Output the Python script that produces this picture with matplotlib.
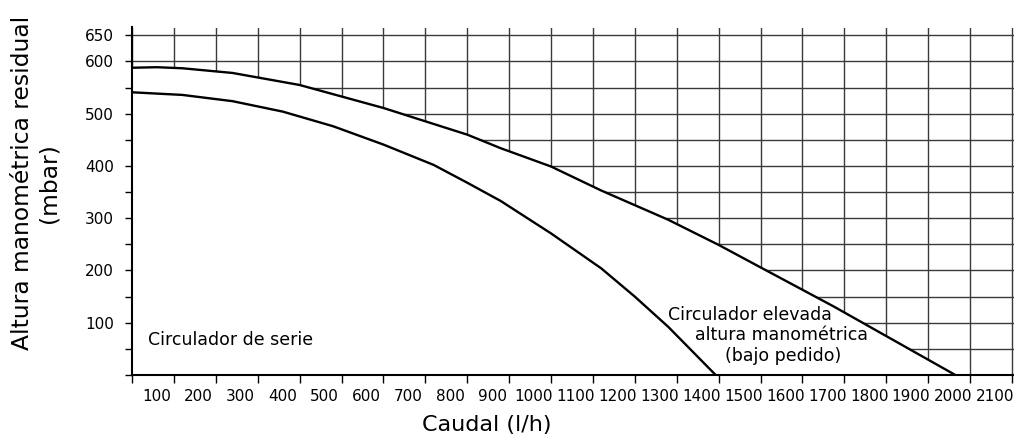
import numpy as np
import matplotlib
matplotlib.use('Agg')
import matplotlib.pyplot as plt
import matplotlib.transforms as mtransforms

matplotlib.rcParams.update({'font.family': 'DejaVu Sans'})

# curve readings (Caudal l/h, mbar)
q_elevada = [0, 60, 120, 240, 400, 600, 800, 880, 1000, 1120, 1280, 1400, 1500, 1675, 1965]
h_elevada = [588, 589, 587, 578, 555, 511, 460, 434, 399, 353, 297, 249, 206, 131, 0]

q_serie = [0, 120, 240, 360, 480, 600, 720, 800, 880, 940, 1000, 1120, 1200, 1280, 1393]
h_serie = [541, 536, 524, 504, 476, 441, 402, 368, 333, 302, 271, 204, 150, 92, 0]

x_ticks = list(range(0, 2200, 100))
y_ticks = list(range(0, 700, 50))
y_labels = ['100', '200', '300', '400', '500', '600', '650']

fig = plt.figure(figsize=(10.14, 4.45), dpi=100)
ax = fig.add_axes([132/1014, 1-375/445, (1014-132)/1014, (375-27.5)/445])

ax.set_xlim(0, 2105)
ax.set_ylim(0, 665)

ax.set_xticks(x_ticks)
ax.set_xticklabels(['' if v == 0 else str(v) for v in x_ticks], fontsize=11)
ax.set_yticks(y_ticks)
ax.set_yticklabels([str(v) if str(v) in y_labels else '' for v in y_ticks], fontsize=11)
ax.tick_params(axis='x', length=6, width=1, pad=4)
ax.tick_params(axis='y', length=5, width=1, pad=8)

# tick labels sit a bit to the left of their ticks
offset = mtransforms.ScaledTranslation(-17/100, 0, fig.dpi_scale_trans)
for lab in ax.get_xticklabels():
    lab.set_transform(lab.get_transform() + offset)

ax.set_axisbelow(True)
ax.grid(True, color='#3a3a3a', lw=1)
for s in ['top', 'right']:
    ax.spines[s].set_visible(False)
for s in ['left', 'bottom']:
    ax.spines[s].set_linewidth(1.5)

# hide grid under the curves
ax.fill_between(q_elevada, h_elevada, 0, color='white', zorder=1, lw=0)
ax.plot(q_elevada, h_elevada, color='black', lw=1.7, zorder=3)
ax.plot(q_serie, h_serie, color='black', lw=1.7, zorder=3)

ax.text(38, 67, 'Circulador de serie', fontsize=12.5, ha='left', va='center', zorder=4)
ax.text(1475, 115, 'Circulador elevada', fontsize=12.5, ha='center', va='center', zorder=4)
ax.text(1551, 77, 'altura manométrica', fontsize=12.5, ha='center', va='center', zorder=4)
ax.text(1554, 36, '(bajo pedido)', fontsize=12.5, ha='center', va='center', zorder=4)

fig.text(36/1014, 1-183/445, 'Altura manométrica residual\n(mbar)', rotation=90,
         ha='center', va='center', multialignment='center', fontsize=16.8,
         linespacing=1.2)
fig.text(487/1014, 1-425/445, 'Caudal (l/h)', ha='center', va='center', fontsize=16)

plt.savefig('out.png', dpi=100)
